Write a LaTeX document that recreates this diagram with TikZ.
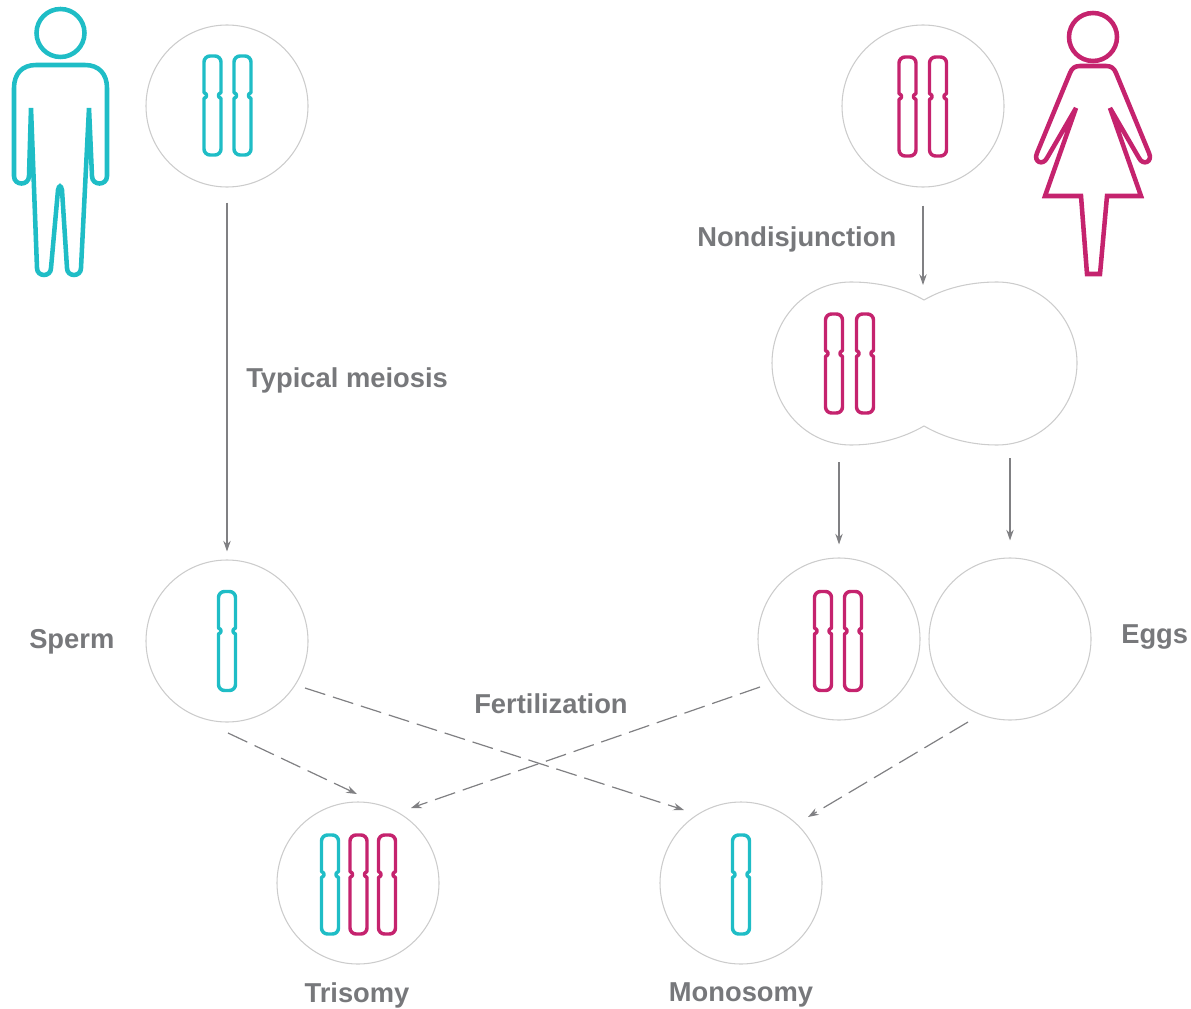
\documentclass[tikz,border=0pt]{standalone}
\usepackage{fontspec}
\setmainfont{Liberation Sans}
\usetikzlibrary{arrows.meta,calc}
\definecolor{cyanC}{RGB}{31,189,198}
\definecolor{magC}{RGB}{197,35,110}
\definecolor{cellC}{RGB}{204,204,204}
\definecolor{arrC}{RGB}{128,128,131}
\definecolor{txtC}{RGB}{119,120,123}
\tikzset{
  cell/.style={circle, draw=cellC, line width=0.8pt, minimum size=121.5pt, inner sep=0pt},
  arr/.style={draw=arrC, line width=0.9pt, -{Stealth[length=8pt,width=5.5pt]}},
  darr/.style={arr, dash pattern=on 16pt off 6pt},
  lbl/.style={text=txtC, font=\bfseries\fontsize{20.5pt}{24pt}\selectfont, inner sep=0pt},
  chromline/.style={line width=2.6pt, line join=round},
  figline/.style={line width=3.4pt, line join=miter, miter limit=3},
  chrom/.pic={
    \draw[chromline] (-8.5,-13) -- (-8.5,-43.5) .. controls (-8.5,-46.8) and (-5.8,-49.5) .. (-2.5,-49.5)
      -- (2.5,-49.5) .. controls (5.8,-49.5) and (8.5,-46.8) .. (8.5,-43.5)
      -- (8.5,-13) .. controls (5,-11.5) and (5,-8.5) .. (8.5,-7)
      -- (8.5,43.5) .. controls (8.5,46.8) and (5.8,49.5) .. (2.5,49.5)
      -- (-2.5,49.5) .. controls (-5.8,49.5) and (-8.5,46.8) .. (-8.5,43.5)
      -- (-8.5,-7) .. controls (-5,-8.5) and (-5,-11.5) .. (-8.5,-13) -- cycle;
  }
}
\begin{document}
\begin{tikzpicture}[x=0.75pt,y=-0.75pt]
\useasboundingbox (0,0) rectangle (1191,1009);

% cells
\node[cell] (mtop) at (227,106) {};
\node[cell] (ftop) at (923,106) {};
\node[cell] (sperm) at (227,641) {};
\node[cell] (egg1) at (839,639) {};
\node[cell] (egg2) at (1010,639) {};
\node[cell] (tri) at (358,883) {};
\node[cell] (mono) at (741,883) {};

% dividing cell
\draw[draw=cellC, line width=0.8pt] (924,300) .. controls (905,289) and (880,282) .. (851,282)
  .. controls (807,282) and (772,318) .. (772,363)
  .. controls (772,408) and (807,445) .. (851,445)
  .. controls (880,445) and (905,437) .. (924,426)
  .. controls (943,437) and (968,445) .. (997,445)
  .. controls (1041,445) and (1077,408) .. (1077,363)
  .. controls (1077,318) and (1041,282) .. (997,282)
  .. controls (968,282) and (943,289) .. (924,300) -- cycle;
\coordinate (divtop) at (923,285);
\coordinate (divbotL) at (839,445);
\coordinate (divbotR) at (1010,445);

% chromosomes
\pic[color=cyanC] at (212.5,105.5) {chrom};
\pic[color=cyanC] at (242.5,105.5) {chrom};
\pic[color=magC] at (907.5,106.5) {chrom};
\pic[color=magC] at (938,106.5) {chrom};
\pic[color=magC] at (834,363.5) {chrom};
\pic[color=magC] at (865,363.5) {chrom};
\pic[color=cyanC] at (227,641) {chrom};
\pic[color=magC] at (823,641) {chrom};
\pic[color=magC] at (853,641) {chrom};
\pic[color=cyanC] at (330,884.5) {chrom};
\pic[color=magC] at (358.5,884.5) {chrom};
\pic[color=magC] at (387,884.5) {chrom};
\pic[color=cyanC] at (741,884.5) {chrom};

% male figure
\node[circle, draw=cyanC, line width=3.4pt, minimum size=36pt, inner sep=0pt] (mhead) at (60.5,33) {};
\draw[figline, draw=cyanC] (31,108) -- (37,268) .. controls (37,277.3) and (51,277.3) .. (51,268)
  -- (58,190) .. controls (59,185) and (61,185) .. (62,190)
  -- (67,268) .. controls (67,277.3) and (81,277.3) .. (81,268)
  -- (89,108) -- (92,176) .. controls (92,186) and (107,186) .. (107,176)
  -- (107,88) .. controls (107,74) and (99,65) .. (85,65)
  -- (36,65) .. controls (22,65) and (14,74) .. (14,88)
  -- (14,176) .. controls (14,186) and (29,186) .. (29,176) -- cycle;

% female figure
\node[circle, draw=magC, line width=3.4pt, minimum size=36pt, inner sep=0pt] (fhead) at (1093,37) {};
\draw[figline, draw=magC] (1076,108) -- (1045,196) -- (1081,196) -- (1087,274) -- (1100,274)
  -- (1107,196) -- (1141,196) -- (1110,108) -- (1139,158)
  .. controls (1143,166) and (1153,162) .. (1149,153)
  -- (1116,73) .. controls (1114,68) and (1111,66) .. (1106,66)
  -- (1080,66) .. controls (1075,66) and (1072,68) .. (1070,73)
  -- (1037,153) .. controls (1033,162) and (1043,166) .. (1047,158) -- cycle;

% solid arrows
\draw[arr, shorten <=11.25pt, shorten >=6pt] (mtop) -- (sperm);
\draw[arr, shorten <=13.5pt] (ftop) -- (divtop);
\draw[arr, shorten <=12.75pt, shorten >=9.75pt] (divbotL) -- (egg1);
\draw[arr, shorten <=9.75pt, shorten >=12.75pt] (divbotR) -- (egg2);

% dashed arrows
\draw[darr] ($(sperm)+(1,92)$) -- ($(tri)+(-1,-89)$);
\draw[darr] ($(sperm)+(78,47)$) -- ($(mono)+(-57,-73)$);
\draw[darr] ($(egg1)+(-79,48)$) -- ($(tri)+(53,-75)$);
\draw[darr] ($(egg2)+(-42,83)$) -- ($(mono)+(67,-66)$);

% labels
\node[lbl, anchor=base west] (ltm) at (246,387) {Typical meiosis};
\node[lbl, anchor=base west] (lnd) at (697,247) {Nondisjunction};
\node[lbl, anchor=base west] (lsp) at (29,648) {Sperm};
\node[lbl, anchor=base west] (leg) at (1121,643) {Eggs};
\node[lbl, anchor=base west] (lfe) at (474,713) {Fertilization};
\node[lbl, anchor=base] (ltr) at (357,1002) {Trisomy};
\node[lbl, anchor=base] (lmo) at (741,1001) {Monosomy};
\end{tikzpicture}
\end{document}
